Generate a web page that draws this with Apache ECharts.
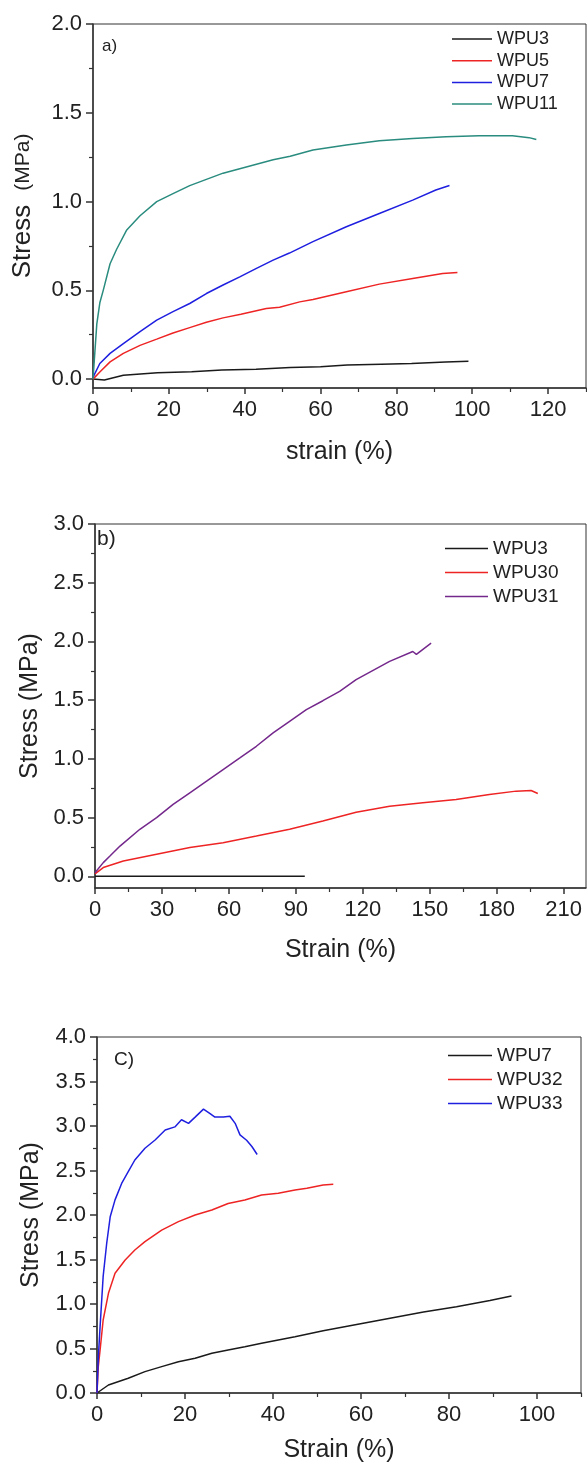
<!DOCTYPE html>
<html>
<head>
<meta charset="utf-8">
<script src="https://cdn.jsdelivr.net/npm/echarts@6/dist/echarts.min.js"></script>
<style>html,body{margin:0;padding:0;background:#fff}#c{width:587px;height:1468px}</style>
</head>
<body>
<div id="c"></div>
<script>
// ---------- Panel a ----------
const aYMajor = [0, 0.5, 1.0, 1.5, 2.0];
const aYMinor = [0.25, 0.75, 1.25, 1.75];
const aXMajor = [0, 20, 40, 60, 80, 100, 120];
const aXMinor = [10, 30, 50, 70, 90, 110, 130];
const aWPU3_x = [0, 3, 8, 17, 26, 34, 43, 52, 60, 67, 76, 84, 93, 99];
const aWPU3_y = [0, -0.005, 0.022, 0.036, 0.042, 0.051, 0.055, 0.066, 0.07, 0.079, 0.084, 0.088, 0.097, 0.1];
const aWPU5_x = [0, 1.8, 4.5, 8, 12.4, 16.8, 21.1, 25.5, 29.9, 34.3, 39, 45.7, 49.2, 54.5, 58, 66.8, 75.5, 84.3, 92.2, 96.1];
const aWPU5_y = [0, 0.04, 0.097, 0.145, 0.19, 0.225, 0.26, 0.29, 0.32, 0.345, 0.365, 0.398, 0.405, 0.435, 0.449, 0.492, 0.535, 0.567, 0.595, 0.6];
const aWPU7_x = [0, 1.8, 4.5, 8, 12.4, 16.8, 21.1, 25.5, 29.9, 34.3, 38.7, 43.1, 47.5, 51.8, 58, 66.8, 75.5, 84.3, 90.4, 94];
const aWPU7_y = [0.01, 0.088, 0.145, 0.2, 0.267, 0.332, 0.38, 0.426, 0.482, 0.53, 0.576, 0.624, 0.67, 0.71, 0.774, 0.858, 0.933, 1.008, 1.065, 1.09];
const aWPU11_x = [0, 1.0, 1.8, 2.7, 4.5, 6.2, 8.9, 12.4, 16.8, 21.1, 25.5, 29.9, 34.3, 38.7, 43.1, 47.5, 52, 58, 66.8, 75.5, 84.3, 93.1, 101.8, 110.6, 115, 116.9];
const aWPU11_y = [0, 0.31, 0.43, 0.5, 0.65, 0.73, 0.84, 0.92, 1.0, 1.045, 1.09, 1.125, 1.16, 1.185, 1.21, 1.235, 1.255, 1.29, 1.318, 1.342, 1.355, 1.365, 1.37, 1.37, 1.36, 1.35];

// ---------- Panel b ----------
const bYMajor = [0, 0.5, 1.0, 1.5, 2.0, 2.5, 3.0];
const bYMinor = [0.25, 0.75, 1.25, 1.75, 2.25, 2.75];
const bXMajor = [0, 30, 60, 90, 120, 150, 180, 210];
const bXMinor = [15, 45, 75, 105, 135, 165, 195];
const bWPU3_x = [0, 30, 60, 94];
const bWPU3_y = [0, 0, 0, 0];
const bWPU30_x = [0, 3.7, 12.7, 27.6, 42.5, 57.4, 72.3, 87.2, 102.1, 117, 132, 146.9, 161.8, 176.7, 188.7, 195.4, 198.4];
const bWPU30_y = [0.02, 0.074, 0.13, 0.187, 0.244, 0.286, 0.342, 0.4, 0.47, 0.545, 0.597, 0.626, 0.654, 0.697, 0.725, 0.73, 0.705];
const bWPU31_x = [0, 3.7, 6.7, 11.2, 20.1, 27.6, 35, 42.5, 50, 57.4, 64.9, 72.3, 79.8, 87.2, 94.7, 102.1, 109.6, 117, 132, 142.4, 144, 150.6];
const bWPU31_y = [0.03, 0.116, 0.172, 0.257, 0.4, 0.499, 0.612, 0.711, 0.81, 0.909, 1.008, 1.107, 1.221, 1.32, 1.419, 1.495, 1.574, 1.674, 1.83, 1.914, 1.89, 1.985];

// ---------- Panel c ----------
const cYMajor = [0, 0.5, 1.0, 1.5, 2.0, 2.5, 3.0, 3.5, 4.0];
const cYMinor = [0.25, 0.75, 1.25, 1.75, 2.25, 2.75, 3.25, 3.75];
const cXMajor = [0, 20, 40, 60, 80, 100];
const cXMinor = [10, 30, 50, 70, 90, 110];
const cWPU7_x = [0, 0.3, 2.6, 7.1, 10.9, 14.7, 18.5, 22.3, 26.1, 29.8, 33.6, 37.4, 41.2, 45, 51.4, 59, 66.6, 74.2, 81.7, 89.3, 94.2];
const cWPU7_y = [0, 0.0, 0.09, 0.165, 0.24, 0.296, 0.352, 0.39, 0.446, 0.483, 0.52, 0.558, 0.596, 0.633, 0.7, 0.77, 0.84, 0.91, 0.97, 1.04, 1.09];
const cWPU32_x = [0, 0.3, 0.7, 1.4, 2.6, 4.1, 6.4, 8.6, 10.9, 14.7, 18.5, 22.3, 26.1, 29.8, 33.6, 37.4, 41.2, 45, 47.7, 51.4, 53.7];
const cWPU32_y = [0, 0.3, 0.48, 0.82, 1.12, 1.345, 1.494, 1.607, 1.7, 1.83, 1.925, 2.0, 2.056, 2.13, 2.168, 2.225, 2.244, 2.28, 2.3, 2.337, 2.345];
const cWPU33_x = [0, 0.3, 0.7, 1.4, 2.2, 3, 4.1, 5.6, 7.1, 8.6, 10.9, 13.2, 15.5, 17.7, 19.2, 20.8, 22.3, 24.2, 25.7, 26.8, 28.7, 30.2, 31.4, 32.5, 34, 35.2, 36.4];
const cWPU33_y = [0, 0.4, 0.745, 1.31, 1.68, 1.98, 2.17, 2.355, 2.487, 2.618, 2.75, 2.843, 2.955, 2.99, 3.07, 3.03, 3.1, 3.19, 3.14, 3.1, 3.1, 3.11, 3.03, 2.9, 2.84, 2.77, 2.68];

const FONT = 'Liberation Sans, Arial, sans-serif';
const AX = '#333';
const TXT = '#222';
const zip = (xs, ys) => xs.map((x, i) => [x, ys[i]]);
const fmt1 = v => Number(v).toFixed(1);
const stripTag = n => n.replace(/ \[.\]$/, '');

function xAxes(grid, min, max, majors, minors, name, nameGap) {
  return [
    { type: 'value', gridIndex: grid, min, max, position: 'bottom',
      name, nameLocation: 'middle', nameGap,
      nameTextStyle: { fontSize: 25, color: TXT, fontFamily: FONT },
      axisLine: { onZero: false, lineStyle: { color: AX, width: 1.5 } },
      axisTick: { customValues: majors, length: 6, lineStyle: { color: AX, width: 1.5 } },
      axisLabel: { customValues: majors, fontSize: 22, color: TXT, fontFamily: FONT, margin: 11 },
      splitLine: { show: false } },
    { type: 'value', gridIndex: grid, min, max, position: 'bottom',
      axisLine: { show: false, onZero: false },
      axisTick: { customValues: minors, length: 4, lineStyle: { color: AX, width: 1.2 } },
      axisLabel: { show: false }, splitLine: { show: false } }
  ];
}
function yAxes(grid, min, max, majors, minors, name, nameGap) {
  return [
    { type: 'value', gridIndex: grid, min, max, position: 'left',
      name, nameLocation: 'middle', nameGap,
      nameTextStyle: { fontSize: 25, color: TXT, fontFamily: FONT,
        rich: { s: { fontSize: 26, color: TXT, fontFamily: FONT }, m: { fontSize: 21, color: TXT, fontFamily: FONT } } },
      axisLine: { onZero: false, lineStyle: { color: AX, width: 1.5 } },
      axisTick: { customValues: majors, length: 7, lineStyle: { color: AX, width: 1.5 } },
      axisLabel: { customValues: majors, fontSize: 22, color: TXT, fontFamily: FONT, margin: 11, formatter: fmt1 },
      splitLine: { show: false } },
    { type: 'value', gridIndex: grid, min, max, position: 'left',
      axisLine: { show: false, onZero: false },
      axisTick: { customValues: minors, length: 4, lineStyle: { color: AX, width: 1.2 } },
      axisLabel: { show: false }, splitLine: { show: false } }
  ];
}
function line(name, xs, ys, color, grid) {
  return { type: 'line', name, data: zip(xs, ys), xAxisIndex: grid * 2, yAxisIndex: grid * 2,
    symbol: 'none', smooth: false, lineStyle: { color, width: 1.5 }, itemStyle: { color },
    animation: false, z: 3 };
}

const RED = '#ee2424', BLUE = '#1f1fe0', TEAL = '#2a8c7f', PURPLE = '#74288c', BLACK = '#1a1a1a';

const option = {
  animation: false,
  textStyle: { fontFamily: FONT },
  grid: [
    { left: 93, top: 24, right: 1, bottom: 1080, show: true, borderColor: AX, borderWidth: 1 },
    { left: 95, top: 524, right: 1, bottom: 580, show: true, borderColor: AX, borderWidth: 1 },
    { left: 97, top: 1037, right: 6, bottom: 75, show: true, borderColor: AX, borderWidth: 1 }
  ],
  xAxis: [
    ...xAxes(0, 0, 130, aXMajor, aXMinor, 'strain (%)', 52),
    ...xAxes(1, 0, 220, bXMajor, bXMinor, 'Strain (%)', 50),
    ...xAxes(2, 0, 110, cXMajor, cXMinor, 'Strain (%)', 45)
  ],
  yAxis: [
    ...yAxes(0, -0.05, 2.0, aYMajor, aYMinor, '{s|Stress}  {m|(MPa)}', 57),
    ...yAxes(1, -0.1, 3.0, bYMajor, bYMinor, 'Stress (MPa)', 52),
    ...yAxes(2, 0, 4.0, cYMajor, cYMinor, 'Stress (MPa)', 53)
  ],
  title: [
    { text: 'a)', left: 102, top: 38, padding: 0, textStyle: { fontSize: 17, fontWeight: 'normal', color: TXT, fontFamily: FONT } },
    { text: 'b)', left: 97, top: 529, padding: 0, textStyle: { fontSize: 21, fontWeight: 'normal', color: TXT, fontFamily: FONT } },
    { text: 'C)', left: 114, top: 1050, padding: 0, textStyle: { fontSize: 19, fontWeight: 'normal', color: TXT, fontFamily: FONT } }
  ],
  legend: [
    { data: ['WPU3 [a]', 'WPU5 [a]', 'WPU7 [a]', 'WPU11 [a]'], formatter: stripTag, orient: 'vertical',
      left: 452, top: 30, padding: 0, icon: 'rect', itemWidth: 40, itemHeight: 1.5, itemGap: 3.7, selectedMode: false,
      textStyle: { fontSize: 18, lineHeight: 18, color: TXT, fontFamily: FONT } },
    { data: ['WPU3 [b]', 'WPU30 [b]', 'WPU31 [b]'], formatter: stripTag, orient: 'vertical',
      left: 445, top: 539, padding: 0, icon: 'rect', itemWidth: 43, itemHeight: 1.5, itemGap: 5, selectedMode: false,
      textStyle: { fontSize: 19, lineHeight: 19, color: TXT, fontFamily: FONT } },
    { data: ['WPU7 [c]', 'WPU32 [c]', 'WPU33 [c]'], formatter: stripTag, orient: 'vertical',
      left: 448, top: 1046, padding: 0, icon: 'rect', itemWidth: 44, itemHeight: 1.5, itemGap: 5, selectedMode: false,
      textStyle: { fontSize: 19, lineHeight: 19, color: TXT, fontFamily: FONT } }
  ],
  series: [
    line('WPU3 [a]', aWPU3_x, aWPU3_y, BLACK, 0),
    line('WPU5 [a]', aWPU5_x, aWPU5_y, RED, 0),
    line('WPU7 [a]', aWPU7_x, aWPU7_y, BLUE, 0),
    line('WPU11 [a]', aWPU11_x, aWPU11_y, TEAL, 0),
    line('WPU3 [b]', bWPU3_x, bWPU3_y, BLACK, 1),
    line('WPU30 [b]', bWPU30_x, bWPU30_y, RED, 1),
    line('WPU31 [b]', bWPU31_x, bWPU31_y, PURPLE, 1),
    line('WPU7 [c]', cWPU7_x, cWPU7_y, BLACK, 2),
    line('WPU32 [c]', cWPU32_x, cWPU32_y, RED, 2),
    line('WPU33 [c]', cWPU33_x, cWPU33_y, BLUE, 2)
  ]
};

const chart = echarts.init(document.getElementById('c'), null, { renderer: 'canvas' });
chart.setOption(option);
</script>
</body>
</html>
